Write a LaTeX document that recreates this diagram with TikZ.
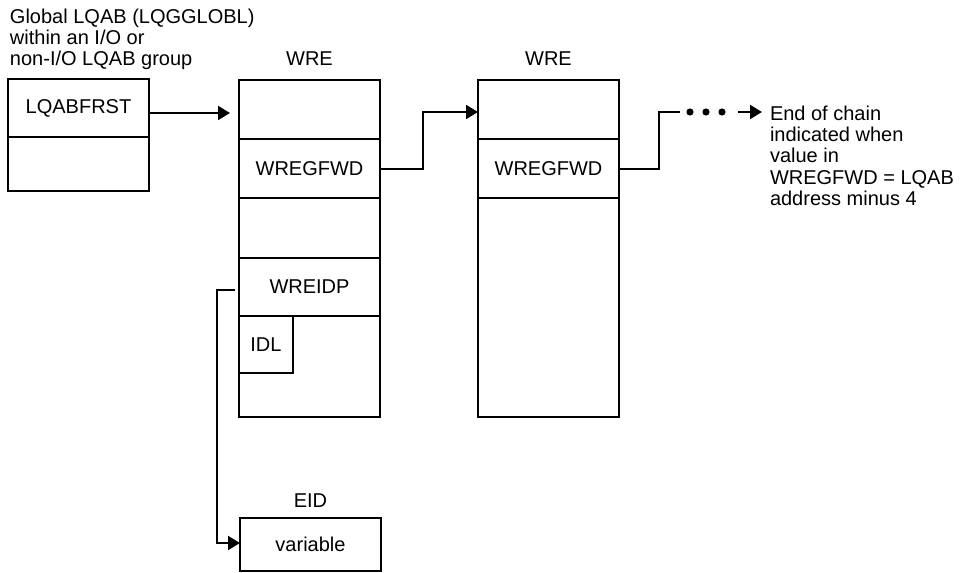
\documentclass[tikz,border=0pt]{standalone}
\usepackage{fontspec}
\setmainfont{Liberation Sans}
\usetikzlibrary{arrows.meta,positioning,calc}
\begin{document}
\begin{tikzpicture}[x=0.5pt,y=-0.5pt,font=\fontsize{10}{10.6}\selectfont,line width=1pt,
  field/.style={draw,minimum width=70.5pt,anchor=north west,inner sep=0pt,outer sep=0pt},
  lbl/.style={inner sep=0pt,align=left},
  ptr/.style={-{Triangle[length=6pt,width=7pt]}}]
  \useasboundingbox (0,0) rectangle (966,573);
  % global LQAB
  \node[lbl,anchor=north west] (glbl) at (9,8) {Global LQAB (LQGGLOBL)\\within an I/O or\\non-I/O LQAB group};
  \node[field,minimum height=29pt] (lqabfrst) at (8,79) {LQABFRST};
  \node[field,minimum height=27pt] (lqabB) at (lqabfrst.south west) {};
  % first WRE
  \node[field,minimum height=29.5pt] (wreA) at (239,80) {};
  \node[field,minimum height=29.5pt] (wregfwdA) at (wreA.south west) {WREGFWD};
  \node[field,minimum height=30pt] (wreC) at (wregfwdA.south west) {};
  \node[field,minimum height=29pt] (wreidp) at (wreC.south west) {WREIDP};
  \node[field,minimum height=50.5pt] (wreE) at (wreidp.south west) {};
  \node[field,minimum width=27pt,minimum height=28.5pt] (idl) at (wreidp.south west) {IDL};
  \node[lbl,anchor=base] (wreAlbl) at (wreA.north|-0,65) {WRE};
  % second WRE
  \node[field,minimum height=29.5pt] (wreF) at (478,80) {};
  \node[field,minimum height=29.5pt] (wregfwdB) at (wreF.south west) {WREGFWD};
  \node[field,minimum height=109.5pt] (wreH) at (wregfwdB.south west) {};
  \node[lbl,anchor=base] (wreFlbl) at (wreF.north|-0,65) {WRE};
  % EID
  \node[field,minimum height=26.5pt] (variable) at (240,518) {variable};
  \node[lbl,anchor=base] (eidlbl) at (variable.north|-0,507) {EID};
  % end of chain
  \node[lbl,anchor=north west] (eoc) at (769,105) {End of chain\\indicated when\\value in\\WREGFWD = LQAB\\address minus 4};
  \coordinate (dots) at (706,112);
  % pointers
  \draw[ptr] ([yshift=-2.5pt]lqabfrst.east) -- ([xshift=-4.5pt,yshift=-2.5pt]lqabfrst.east-|wreA.west);
  \draw[ptr] (wregfwdA.east) -- ++(43,0) |- ([yshift=-1.25pt]wreF.west);
  \draw (wregfwdB.east) -- ++(40,0) |- ($(dots)+(-26,0)$);
  \foreach \dx in {-16,0,16}{\fill ($(dots)+(\dx,0)$) circle (1.8pt);}
  \draw[ptr] ($(dots)+(32,0)$) -- ($(eoc.west|-dots)+(-7,0)$);
  \draw[ptr] ([xshift=-2pt,yshift=-1.5pt]wreidp.west) -- ++(-18,0) |- ([yshift=0.75pt]variable.west);
\end{tikzpicture}
\end{document}
